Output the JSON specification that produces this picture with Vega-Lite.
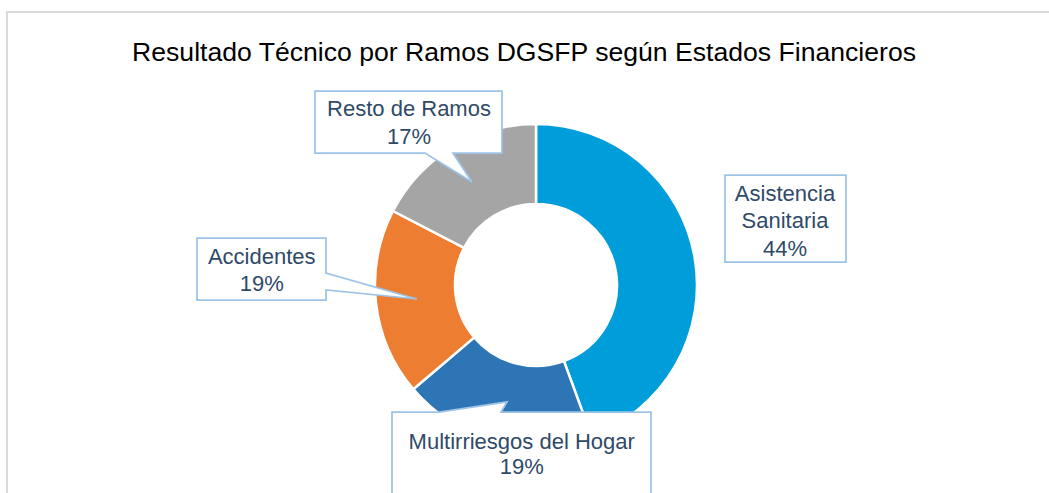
{
  "$schema": "https://vega.github.io/schema/vega-lite/v6.json",
  "autosize": {"type": "none"},
  "width": 1058,
  "height": 546,
  "padding": {"left": 7, "top": 12, "right": -16, "bottom": -65},
  "background": "white",
  "config": {
    "view": {"stroke": null, "fill": "white"}
  },
  "title": {
    "text": "Resultado Técnico por Ramos DGSFP según Estados Financieros",
    "anchor": "middle",
    "frame": "group",
    "offset": -77,
    "dx": -12,
    "baseline": "alphabetic",
    "font": "Liberation Sans",
    "fontSize": 26.6,
    "fontWeight": "normal",
    "color": "#000000"
  },
  "data": {
    "values": [
      {"ramo": "Asistencia Sanitaria", "share": 0.444},
      {"ramo": "Multirriesgos del Hogar", "share": 0.194},
      {"ramo": "Accidentes", "share": 0.188},
      {"ramo": "Resto de Ramos", "share": 0.174}
    ]
  },
  "layer": [
    {
      "transform": [{"filter": "datum.ramo === 'Asistencia Sanitaria'"}],
      "mark": {"type": "rect", "fill": "white", "stroke": "#D9D9D9", "strokeWidth": 2},
      "encoding": {}
    },
    {
      "mark": {"type": "arc", "innerRadius": 81, "outerRadius": 161, "stroke": "white", "strokeWidth": 2.5},
      "encoding": {
        "theta": {"field": "share", "type": "quantitative", "stack": true},
        "order": {"field": "share", "sort": "descending"},
        "color": {
          "field": "ramo", "type": "nominal",
          "scale": {
            "domain": ["Asistencia Sanitaria", "Multirriesgos del Hogar", "Accidentes", "Resto de Ramos"],
            "range": ["#009DDB", "#2E75B6", "#ED7D31", "#A5A5A5"]
          },
          "legend": null
        }
      }
    },
    {
      "mark": {"type": "point", "filled": true, "fill": "white", "stroke": "#9DC3E6", "strokeWidth": 1.75, "size": 4, "opacity": 1},
      "encoding": {
        "shape": {
          "field": "ramo", "type": "nominal",
          "scale": {
            "domain": ["Asistencia Sanitaria", "Multirriesgos del Hogar", "Accidentes", "Resto de Ramos"],
            "range": [
              "M189,-110L310,-110L310,-23L189,-23Z",
              "M-144,127L-97,127L-29,117L-35,127L115,127L115,240L-144,240Z",
              "M-339,-47L-210,-47L-210,-12L-119,14L-210,5L-210,15L-339,15Z",
              "M-221,-194L-34,-194L-34,-132L-83,-132L-64,-103L-111,-132L-221,-132Z"
            ]
          },
          "legend": null
        }
      }
    },
    {
      "transform": [{"filter": "datum.ramo === 'Asistencia Sanitaria'"}],
      "layer": [
        {
          "mark": {"type": "text", "dx": 249, "dy": -101.4, "baseline": "top", "align": "center", "lineBreak": " ", "lineHeight": 27.5, "font": "Liberation Sans", "fontSize": 22, "color": "#2F4A68"},
          "encoding": {"text": {"field": "ramo", "type": "nominal"}}
        },
        {
          "mark": {"type": "text", "dx": 249, "dy": -46.4, "baseline": "top", "align": "center", "font": "Liberation Sans", "fontSize": 22, "color": "#2F4A68"},
          "encoding": {"text": {"field": "share", "type": "quantitative", "format": ".0%"}}
        }
      ]
    },
    {
      "transform": [{"filter": "datum.ramo === 'Multirriesgos del Hogar'"}],
      "layer": [
        {
          "mark": {"type": "text", "dx": -14.3, "dy": 146.9, "baseline": "top", "align": "center", "font": "Liberation Sans", "fontSize": 22, "color": "#2F4A68"},
          "encoding": {"text": {"field": "ramo", "type": "nominal"}}
        },
        {
          "mark": {"type": "text", "dx": -14.3, "dy": 171.9, "baseline": "top", "align": "center", "font": "Liberation Sans", "fontSize": 22, "color": "#2F4A68"},
          "encoding": {"text": {"field": "share", "type": "quantitative", "format": ".0%"}}
        }
      ]
    },
    {
      "transform": [{"filter": "datum.ramo === 'Accidentes'"}],
      "layer": [
        {
          "mark": {"type": "text", "dx": -274.3, "dy": -38.1, "baseline": "top", "align": "center", "font": "Liberation Sans", "fontSize": 22, "color": "#2F4A68"},
          "encoding": {"text": {"field": "ramo", "type": "nominal"}}
        },
        {
          "mark": {"type": "text", "dx": -274.3, "dy": -11.4, "baseline": "top", "align": "center", "font": "Liberation Sans", "fontSize": 22, "color": "#2F4A68"},
          "encoding": {"text": {"field": "share", "type": "quantitative", "format": ".0%"}}
        }
      ]
    },
    {
      "transform": [{"filter": "datum.ramo === 'Resto de Ramos'"}],
      "layer": [
        {
          "mark": {"type": "text", "dx": -127, "dy": -186.4, "baseline": "top", "align": "center", "font": "Liberation Sans", "fontSize": 22, "color": "#2F4A68"},
          "encoding": {"text": {"field": "ramo", "type": "nominal"}}
        },
        {
          "mark": {"type": "text", "dx": -127, "dy": -158.1, "baseline": "top", "align": "center", "font": "Liberation Sans", "fontSize": 22, "color": "#2F4A68"},
          "encoding": {"text": {"field": "share", "type": "quantitative", "format": ".0%"}}
        }
      ]
    }
  ]
}
